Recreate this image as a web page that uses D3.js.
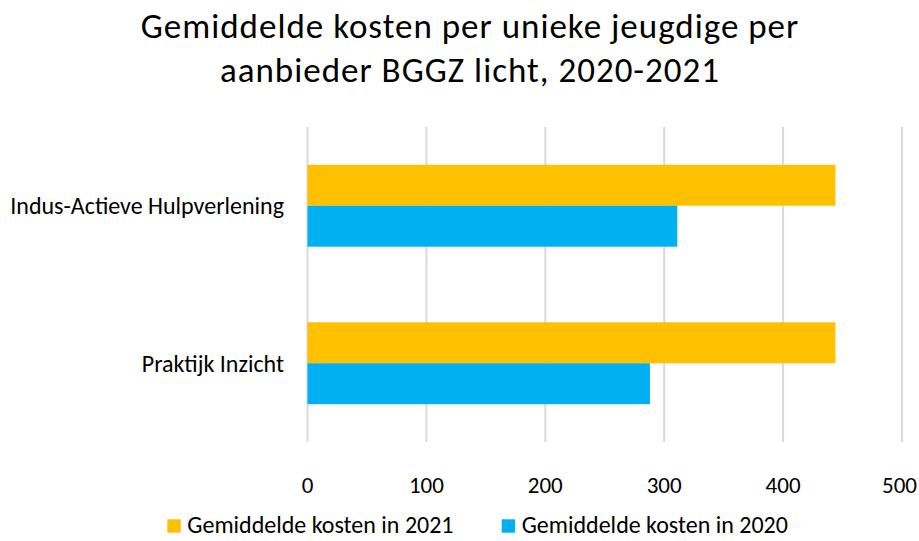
<!DOCTYPE html>
<html>
<head>
<meta charset="utf-8">
<script src="https://cdn.jsdelivr.net/npm/d3@7"></script>
<style>
  body { margin: 0; background: #fff; }
  svg text { font-family: Carlito, Calibri, Lato, sans-serif; fill: #000; }
</style>
</head>
<body>
<div id="chart"></div>
<script>
// chart data
var categories = ["Indus-Actieve Hulpverlening", "Praktijk Inzicht"];
var seriesNames = ["Gemiddelde kosten in 2021", "Gemiddelde kosten in 2020"];
var kosten2021 = [444, 444];
var kosten2020 = [311, 288];
var xTicks = [0, 100, 200, 300, 400, 500];
var titleLines = ["Gemiddelde kosten per unieke jeugdige per", "aanbieder BGGZ licht, 2020-2021"];

var width = 919,
	height = 541,
	colors = ["#FFC000", "#00B0F0"],
	plot = {left: 307.5, right: 902, top: 127, bottom: 442};

var svg = d3.select("#chart")
	.append("svg")
	.attr("width", width)
	.attr("height", height);

// title
svg.append("g").selectAll("text")
	.data(titleLines)
	.enter()
	.append("text")
	.attr("x", 470)
	.attr("y", (d, i) => 37.5 + i * 44.5)
	.attr("text-anchor", "middle")
	.style("font-size", "35px")
	.style("letter-spacing", "1px")
	.text(d => d);

var x = d3.scaleLinear()
	.domain([0, 500])
	.range([plot.left, plot.right]);

var y = d3.scaleBand()
	.domain(categories)
	.range([plot.top, plot.bottom])
	.paddingInner(0.48)
	.paddingOuter(0.24);

var ySeries = d3.scaleBand()
	.domain(seriesNames)
	.range([0, y.bandwidth()]);

// gridlines
svg.append("g").selectAll("line")
	.data(xTicks)
	.enter()
	.append("line")
	.attr("x1", d => x(d))
	.attr("x2", d => x(d))
	.attr("y1", plot.top)
	.attr("y2", plot.bottom)
	.attr("stroke", "#D9D9D9")
	.attr("stroke-width", 2);

// tick labels (last one pushed in so it stays inside the frame)
svg.append("g").selectAll("text")
	.data(xTicks)
	.enter()
	.append("text")
	.attr("y", 485)
	.attr("dy", "0.35em")
	.attr("text-anchor", "middle")
	.style("font-size", "23px")
	.text(d => d)
	.attr("x", function(d) {
		var w = this.getComputedTextLength();
		return Math.min(x(d), width - 2 - w / 2);
	});

// category labels
svg.append("g").selectAll("text")
	.data(categories)
	.enter()
	.append("text")
	.attr("x", 284)
	.attr("y", d => y(d) + y.bandwidth() / 2)
	.attr("dy", "0.35em")
	.attr("text-anchor", "end")
	.style("font-size", "24px")
	.text(d => d);

// bars
var rows = categories.map((c, i) => ({cat: c, values: [kosten2021[i], kosten2020[i]]}));

var groups = svg.append("g").selectAll("g")
	.data(rows)
	.enter()
	.append("g")
	.attr("transform", d => "translate(0," + y(d.cat) + ")");

groups.selectAll("rect")
	.data(d => d.values.map((v, j) => ({name: seriesNames[j], value: v, j: j})))
	.enter()
	.append("rect")
	.attr("x", x(0))
	.attr("y", d => ySeries(d.name))
	.attr("width", d => x(d.value) - x(0))
	.attr("height", ySeries.bandwidth())
	.attr("fill", d => colors[d.j]);

// legend
var legendX = [167.3, 501.7];
var legend = svg.append("g").selectAll("g")
	.data(seriesNames)
	.enter()
	.append("g")
	.attr("transform", (d, i) => "translate(" + legendX[i] + ",519.3)");

legend.append("rect")
	.attr("width", 13.4)
	.attr("height", 13.4)
	.attr("fill", (d, i) => colors[i]);

legend.append("text")
	.attr("x", 20)
	.attr("y", 13.7)
	.style("font-size", "24px")
	.text(d => d);
</script>
</body>
</html>
